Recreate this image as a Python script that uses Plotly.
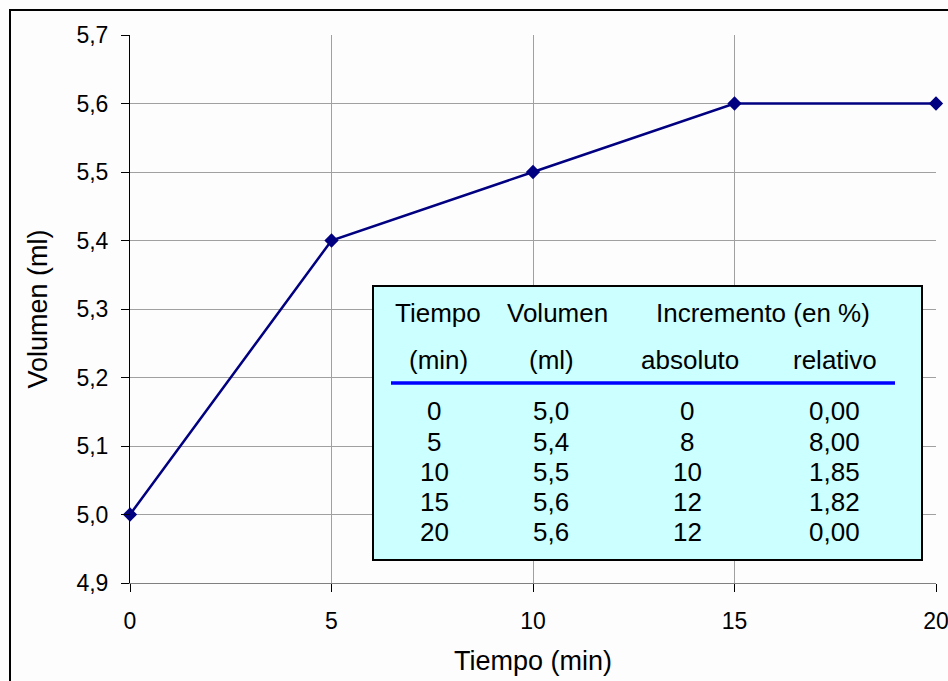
import plotly.graph_objects as go

# ---- data ----
tiempo = [0, 5, 10, 15, 20]
volumen = [5.0, 5.4, 5.5, 5.6, 5.6]
incremento_abs = [0, 8, 10, 12, 12]
incremento_rel = [0.00, 8.00, 1.85, 1.82, 0.00]
y_ticks = [4.9, 5.0, 5.1, 5.2, 5.3, 5.4, 5.5, 5.6, 5.7]
x_ticks = [0, 5, 10, 15, 20]

W, H = 948, 681
L, R, T, B = 130, 12, 35, 98
PW, PH = W - L - R, H - T - B

def px(x):
    return (x - L) / PW

def py(y):
    return (H - B - y) / PH

FONT = "Liberation Sans, Arial, sans-serif"

fig = go.Figure()
fig.add_trace(go.Scatter(
    x=tiempo, y=volumen, mode="lines+markers",
    line=dict(color="#000080", width=2.5),
    marker=dict(symbol="diamond", size=11, color="#000080"),
    showlegend=False, cliponaxis=False,
))

shapes = []
# outer chart border
shapes.append(dict(type="rect", xref="paper", yref="paper",
                   x0=px(10), x1=px(1000), y0=py(10), y1=py(760),
                   line=dict(color="#000000", width=2), fillcolor="rgba(0,0,0,0)", layer="below"))
# table box
shapes.append(dict(type="rect", xref="paper", yref="paper",
                   x0=px(373), x1=px(922), y0=py(286), y1=py(560),
                   line=dict(color="#000000", width=2), fillcolor="#ccffff", layer="above"))
# blue rule under header
shapes.append(dict(type="line", xref="paper", yref="paper",
                   x0=px(391), x1=px(895), y0=py(383), y1=py(383),
                   line=dict(color="#0000ff", width=3.5), layer="above"))

annotations = []
def txt(s, x, y):
    annotations.append(dict(text=s, x=px(x), y=py(y), xref="paper", yref="paper",
                            showarrow=False, xanchor="center", yanchor="middle",
                            font=dict(family=FONT, size=26, color="#000000")))

txt("Tiempo", 438, 313)
txt("Volumen", 557, 313)
txt("Incremento (en %)", 763, 313)
txt("(min)", 438, 360)
txt("(ml)", 551, 360)
txt("absoluto", 690, 360)
txt("relativo", 835, 360)

row_y = [411, 441.5, 472, 502, 532]
for i in range(len(tiempo)):
    txt(str(tiempo[i]), 434, row_y[i])
    txt(f"{volumen[i]:.1f}".replace(".", ","), 551, row_y[i])
    txt(str(incremento_abs[i]), 687, row_y[i])
    txt(f"{incremento_rel[i]:.2f}".replace(".", ","), 834, row_y[i])

fig.update_layout(
    width=W, height=H,
    margin=dict(l=L, r=R, t=T, b=B, autoexpand=False),
    paper_bgcolor="#fdfdfd", plot_bgcolor="#fdfdfd",
    separators=",.",
    font=dict(family=FONT, color="#000000"),
    shapes=shapes, annotations=annotations,
    xaxis=dict(
        range=[0, 20], tickvals=x_ticks, ticks="outside", ticklen=8, tickcolor="#000000",
        tickfont=dict(size=23), showgrid=True, gridcolor="#a0a0a0", gridwidth=1,
        showline=True, linecolor="#808080", linewidth=1, zeroline=False,
        ticklabelstandoff=9, ticklabeloverflow="allow", automargin=False,
        title=dict(text="Tiempo (min)", font=dict(size=27), standoff=18),
    ),
    yaxis=dict(
        range=[4.9, 5.7], tickvals=y_ticks, tickformat=".1f", ticks="outside", ticklen=8,
        tickcolor="#000000", tickfont=dict(size=23), showgrid=True, gridcolor="#a0a0a0",
        gridwidth=1, showline=True, linecolor="#000000", linewidth=1, zeroline=False,
        mirror=False, ticklabelstandoff=8, ticklabeloverflow="allow", automargin=False,
        title=dict(text="Volumen (ml)", font=dict(size=27), standoff=20),
    ),
)

fig.write_html("out.html", config={"displayModeBar": False},
               post_script="document.body.style.margin='0';document.body.style.overflow='hidden';")
